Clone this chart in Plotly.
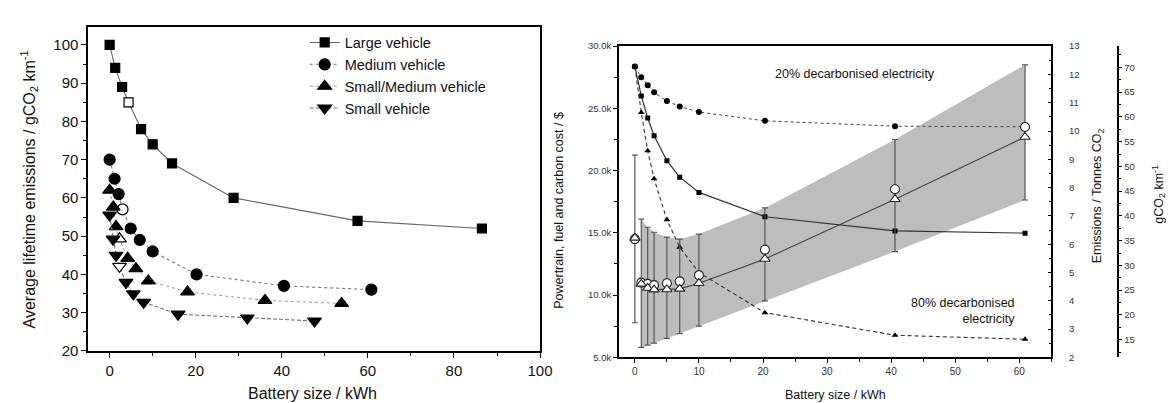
import plotly.graph_objects as go

W, H = 1174, 403
def px(x):
    return x / W
def py(y):
    return (H - y) / H

# ---------------- Left panel data ----------------
large_x = [0, 1.3, 2.9, 4.4, 7.3, 10, 14.5, 28.8, 57.6, 86.5]
large_y = [100, 94, 89, 85, 78, 74, 69, 60, 54, 52]
medium_x = [0, 1.15, 2.1, 3.0, 4.9, 7.0, 10, 20.2, 40.5, 60.8]
medium_y = [70, 65, 61, 57, 52, 49, 46, 40, 37, 36]
smallmed_x = [0, 0.85, 1.5, 2.3, 4.2, 6.1, 9.0, 18.1, 36.1, 53.9]
smallmed_y = [62, 57.6, 52.5, 49.3, 44.2, 41.5, 38.3, 35.4, 33.2, 32.4]
small_x = [0, 0.8, 1.5, 2.3, 3.8, 5.5, 7.9, 15.9, 32.0, 47.6]
small_y = [55.5, 49.2, 45.0, 42.1, 37.9, 34.9, 32.7, 29.6, 28.6, 27.8]
open_index = 3  # hollow marker in each left-panel series
left_x_ticks = [0, 20, 40, 60, 80, 100]
left_y_ticks = [20, 30, 40, 50, 60, 70, 80, 90, 100]

# ---------------- Right panel data ----------------
batt = [0, 1, 2, 3, 5, 7, 10, 20.3, 40.6, 60.9]
# emissions (tonnes CO2)
em_circle = [12.28, 11.9, 11.62, 11.37, 11.06, 10.87, 10.67, 10.36, 10.17, 10.15]
em_square = [12.28, 11.24, 10.46, 9.83, 8.95, 8.37, 7.83, 6.97, 6.47, 6.39]
em_triangle = [12.28, 10.65, 9.30, 8.31, 6.86, 5.89, 5.00, 3.58, 2.78, 2.64]
# costs ($)
cost_circle = [14500, 11000, 10900, 10800, 10950, 11100, 11600, 13650, 18500, 23500]
cost_triangle = [14600, 10900, 10570, 10440, 10450, 10500, 10950, 12900, 17700, 22700]
cost_upper = [21250, 16100, 15450, 15050, 14650, 14500, 14900, 17000, 22500, 28500]
cost_lower = [7780, 5800, 5980, 6140, 6530, 6900, 7500, 9530, 13500, 17640]
cost_tickvals = [5000, 10000, 15000, 20000, 25000, 30000]
cost_ticktext = ["5.0k", "10.0k", "15.0k", "20.0k", "25.0k", "30.0k"]
tonne_ticks = [2, 3, 4, 5, 6, 7, 8, 9, 10, 11, 12, 13]
gkm_ticks = [15, 20, 25, 30, 35, 40, 45, 50, 55, 60, 65, 70]
km_per_life = 175000  # tonnes -> g/km conversion for third axis

FONT = "Arial, Liberation Sans, sans-serif"
fig = go.Figure()

def fills(n, k, c="black"):
    return [("white" if i == k else c) for i in range(n)]

left_series = [
    ("Large vehicle", large_x, large_y, "square", 9, dict(color="#666", width=1.1, dash="solid")),
    ("Medium vehicle", medium_x, medium_y, "circle", 11, dict(color="#777", width=1.1, dash="dot")),
    ("Small/Medium vehicle", smallmed_x, smallmed_y, "triangle-up", 12, dict(color="#999", width=1.0, dash="dot")),
    ("Small vehicle", small_x, small_y, "triangle-down", 12, dict(color="#777", width=1.1, dash="4px,2px")),
]
for name, xs, ys, sym, sz, ln in left_series:
    fig.add_trace(go.Scatter(
        x=xs, y=ys, name=name, mode="lines+markers", xaxis="x", yaxis="y",
        line=ln,
        marker=dict(symbol=sym, size=sz, color=fills(len(xs), open_index),
                    line=dict(color="black", width=1.2)),
    ))

# ---------------- Right panel traces ----------------
band_x = batt[1:]
fig.add_trace(go.Scatter(x=band_x, y=cost_lower[1:], mode="lines", line=dict(width=0),
                         xaxis="x2", yaxis="y2", showlegend=False, hoverinfo="skip"))
fig.add_trace(go.Scatter(x=band_x, y=cost_upper[1:], mode="lines", line=dict(width=0),
                         fill="tonexty", fillcolor="#bdbdbd",
                         xaxis="x2", yaxis="y2", showlegend=False, hoverinfo="skip"))

fig.add_trace(go.Scatter(x=batt, y=em_circle, mode="lines+markers", xaxis="x2", yaxis="y3",
                         line=dict(color="#444", width=1, dash="dot"),
                         marker=dict(symbol="circle", size=6, color="black"), showlegend=False))
fig.add_trace(go.Scatter(x=batt, y=em_square, mode="lines+markers", xaxis="x2", yaxis="y3",
                         line=dict(color="#333", width=1.2),
                         marker=dict(symbol="square", size=5, color="black"), showlegend=False))
fig.add_trace(go.Scatter(x=batt, y=em_triangle, mode="lines+markers", xaxis="x2", yaxis="y3",
                         line=dict(color="#333", width=1.1, dash="4px,3px"),
                         marker=dict(symbol="triangle-up", size=6, color="black"), showlegend=False))

# same emissions expressed in g/km so the third axis is drawn (invisible marks)
fig.add_trace(go.Scatter(x=batt, y=[t * 1e6 / km_per_life for t in em_circle], mode="markers",
                         xaxis="x2", yaxis="y4", marker=dict(opacity=0, size=1),
                         showlegend=False, hoverinfo="skip"))

# cost marks on a top layer (y5 overlays y2 with identical scale)
fig.add_trace(go.Scatter(x=batt[1:], y=cost_triangle[1:], mode="lines", xaxis="x2", yaxis="y5",
                         line=dict(color="#444", width=1.1), showlegend=False))
err_plus = [u - c for u, c in zip(cost_upper, cost_circle)]
err_minus = [c - l for c, l in zip(cost_circle, cost_lower)]
fig.add_trace(go.Scatter(x=batt, y=cost_circle, mode="markers", xaxis="x2", yaxis="y5",
                         marker=dict(symbol="circle", size=9, color="white", line=dict(color="#222", width=1.1)),
                         error_y=dict(type="data", array=err_plus, arrayminus=err_minus,
                                      color="#555", thickness=1.2, width=3),
                         showlegend=False))
fig.add_trace(go.Scatter(x=batt, y=cost_triangle, mode="markers", xaxis="x2", yaxis="y5",
                         marker=dict(symbol="triangle-up", size=9, color="white", line=dict(color="#222", width=1.1)),
                         showlegend=False))

axis_common = dict(showline=True, linecolor="black", linewidth=1.5, showgrid=False, zeroline=False,
                   ticks="outside", tickcolor="black")

fig.update_layout(
    width=W, height=H, autosize=False,
    margin=dict(l=0, r=0, t=0, b=0),
    paper_bgcolor="white", plot_bgcolor="white",
    font=dict(family=FONT, color="#111"),
    xaxis=dict(domain=[px(81), px(538)], range=[-5, 100], tickvals=left_x_ticks, ticklen=5,
               mirror=True, anchor="y", tickfont=dict(size=15),
               minor=dict(dtick=10, tick0=0, ticks="outside", ticklen=3, tickcolor="black"),
               **axis_common),
    yaxis=dict(domain=[py(349), py(13)], range=[20, 104.8], tickvals=left_y_ticks, ticklen=5,
               mirror=True, anchor="x", tickfont=dict(size=15),
               minor=dict(dtick=5, tick0=0, ticks="outside", ticklen=3, tickcolor="black"),
               **axis_common),
    xaxis2=dict(domain=[px(617.7), px(1055)], range=[-2.5, 65], dtick=10, tick0=0, ticklen=4,
                mirror=True, anchor="y2", tickfont=dict(size=10, color="#333"),
                minor=dict(dtick=5, tick0=0, ticks="outside", ticklen=3, tickcolor="black"),
                **axis_common),
    yaxis2=dict(domain=[py(355.7), py(33.3)], range=[5000, 30000], tickvals=cost_tickvals,
                ticktext=cost_ticktext, ticklen=4, anchor="x2", tickfont=dict(size=9.5, color="#333"),
                minor=dict(dtick=2500, tick0=0, ticks="outside", ticklen=3, tickcolor="black"),
                **axis_common),
    yaxis3=dict(overlaying="y2", side="right", anchor="x2", range=[2, 13], tickvals=tonne_ticks,
                showline=True, linecolor="black", linewidth=1.5, showgrid=False, zeroline=False,
                ticks="inside", ticklen=4, tickcolor="black", ticklabelstandoff=14,
                tickfont=dict(size=9.5, color="#333"),
                minor=dict(dtick=0.5, tick0=0, ticks="inside", ticklen=3, tickcolor="black")),
    yaxis4=dict(overlaying="y2", side="right", anchor="free", position=px(1122),
                range=[2 * 1e6 / km_per_life, 13 * 1e6 / km_per_life], tickvals=gkm_ticks,
                showline=True, linecolor="black", linewidth=1.5, showgrid=False, zeroline=False,
                ticks="outside", ticklen=4, tickcolor="black", tickfont=dict(size=9.5, color="#333"),
                minor=dict(dtick=2.5, tick0=0, ticks="outside", ticklen=3, tickcolor="black")),
    yaxis5=dict(overlaying="y2", anchor="x2", range=[5000, 30000], visible=False,
                showgrid=False, zeroline=False),
    legend=dict(x=px(300), y=py(13), xanchor="left", yanchor="top", bgcolor="rgba(0,0,0,0)",
                font=dict(size=14.5, color="#111"), tracegroupgap=0, itemwidth=30,
                traceorder="normal"),
)

ann = [
    dict(text="Average lifetime emissions / gCO<sub>2</sub> km<sup>-1</sup>", x=px(21), y=py(182),
         textangle=-90, font=dict(size=16)),
    dict(text="Battery size / kWh", x=px(308), y=py(393), font=dict(size=16)),
    dict(text="Powertrain, fuel and carbon cost / $", x=px(557), y=py(203), textangle=-90,
         font=dict(size=12.5)),
    dict(text="Battery size / kWh", x=px(837), y=py(395), font=dict(size=12.5)),
    dict(text="Emissions / Tonnes CO<sub>2</sub>", x=px(1103), y=py(188), textangle=-90,
         font=dict(size=12.5)),
    dict(text="gCO<sub>2</sub> km<sup>-1</sup>", x=px(1163), y=py(187), textangle=-90,
         font=dict(size=12.5)),
    dict(text="20% decarbonised electricity", x=px(856), y=py(62), font=dict(size=12.5)),
    dict(text="80% decarbonised<br>electricity", x=px(1020), y=py(308), xanchor="right",
         align="right", font=dict(size=12.5)),
]
for a in ann:
    a.setdefault("xanchor", "center")
    fig.add_annotation(xref="paper", yref="paper", showarrow=False, yanchor="middle", **a)

fig.write_html("out.html")
